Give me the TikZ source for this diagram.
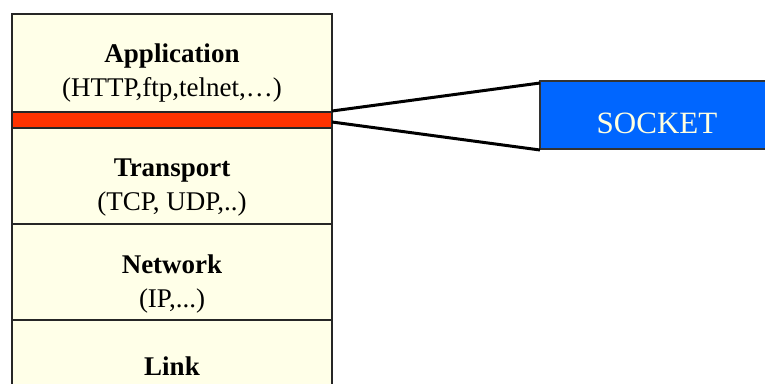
\documentclass[tikz,border=0pt]{standalone}
\usepackage{fontspec}
\setmainfont{Liberation Serif}
\definecolor{layerfill}{HTML}{FFFFE8}
\definecolor{apiband}{HTML}{FF3300}
\definecolor{sockblue}{HTML}{0066FF}
\definecolor{socktext}{HTML}{FFFFE0}
\begin{document}
\begin{tikzpicture}[x=1pt,y=-1pt,
  layer/.style={draw=black!85,line width=1.8pt,fill=layerfill},
  band/.style={draw=black!85,line width=1.8pt,fill=apiband},
  layertext/.style={align=center,font=\fontsize{27}{34}\selectfont,inner sep=0pt},
  sockbox/.style={draw=black!80,line width=1.2pt,fill=sockblue},
  link/.style={black,line width=3pt}]
\useasboundingbox (0,0) rectangle (765,383);
\begin{scope}
\clip (0,0) rectangle (765,383);
% protocol stack
\draw[layer] (12,14) rectangle (332,112);
\draw[band]  (12,112) rectangle (332,128);
\draw[layer] (12,128) rectangle (332,224);
\draw[layer] (12,224) rectangle (332,320);
\draw[layer] (12,320) rectangle (332,400);
\node[layertext] (app)  at (172,73)  {\textbf{Application}\\(HTTP,ftp,telnet,…)};
\node[layertext] (tra)  at (172,188) {\textbf{Transport}\\(TCP, UDP,..)};
\node[layertext] (net)  at (172,284) {\textbf{Network}\\(IP,...)};
\node[layertext,anchor=base] (lnk) at (172,375) {\textbf{Link}};
% socket interface box
\draw[sockbox] (540,81) rectangle (770,149);
\node[font=\fontsize{31}{36}\selectfont,text=socktext,inner sep=0pt] (sock) at (657,123) {SOCKET};
\coordinate (bandtop) at (332,111);
\coordinate (bandbot) at (332,122);
\coordinate (socktl) at (540,83);
\coordinate (sockbl) at (540,150);
\draw[link] (bandtop) -- (socktl);
\draw[link] (bandbot) -- (sockbl);
\end{scope}
\end{tikzpicture}
\end{document}
